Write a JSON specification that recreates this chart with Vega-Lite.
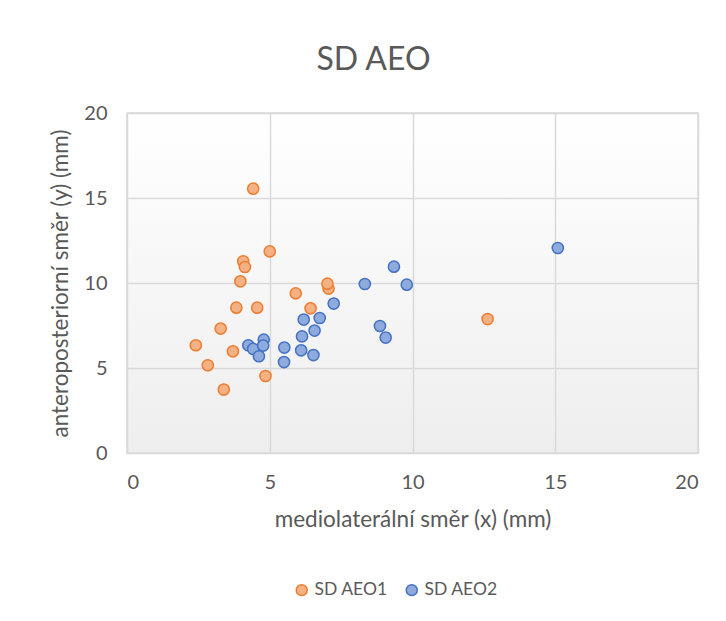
{
  "$schema": "https://vega.github.io/schema/vega-lite/v6.json",
  "width": 571,
  "height": 340,
  "autosize": {"type": "none"},
  "padding": {"left": 127, "top": 113, "right": 28, "bottom": 168},
  "background": "white",
  "title": {"text": "SD AEO", "font": "Lato", "fontSize": 32, "fontWeight": "normal", "color": "#595959", "anchor": "middle", "dx": -39, "offset": 26},
  "config": {
    "view": {"stroke": "#d9d9d9", "strokeWidth": 1.5, "fill": {"gradient": "linear", "x1": 0, "y1": 0, "x2": 0, "y2": 1, "stops": [{"offset": 0, "color": "#ffffff"}, {"offset": 1, "color": "#eeeeee"}]}},
    "font": "Lato",
    "axis": {
      "labelFont": "Lato", "titleFont": "Lato",
      "labelFontSize": 20, "titleFontSize": 22.5,
      "labelColor": "#595959", "titleColor": "#595959",
      "titleFontWeight": "normal",
      "gridColor": "#d9d9d9", "gridWidth": 1.5,
      "domain": false, "ticks": false
    },
    "legend": {"labelFont": "Lato", "labelFontSize": 17.5, "labelColor": "#595959"}
  },
  "data": {"values": [
    {"x": 4.42, "y": 15.55, "series": "SD AEO1"},
    {"x": 5.0, "y": 11.86, "series": "SD AEO1"},
    {"x": 4.07, "y": 11.28, "series": "SD AEO1"},
    {"x": 4.13, "y": 10.94, "series": "SD AEO1"},
    {"x": 3.97, "y": 10.1, "series": "SD AEO1"},
    {"x": 5.91, "y": 9.39, "series": "SD AEO1"},
    {"x": 7.06, "y": 9.67, "series": "SD AEO1"},
    {"x": 7.02, "y": 9.96, "series": "SD AEO1"},
    {"x": 3.83, "y": 8.55, "series": "SD AEO1"},
    {"x": 4.56, "y": 8.55, "series": "SD AEO1"},
    {"x": 6.43, "y": 8.51, "series": "SD AEO1"},
    {"x": 3.28, "y": 7.32, "series": "SD AEO1"},
    {"x": 2.41, "y": 6.34, "series": "SD AEO1"},
    {"x": 3.71, "y": 5.98, "series": "SD AEO1"},
    {"x": 2.83, "y": 5.16, "series": "SD AEO1"},
    {"x": 4.85, "y": 4.53, "series": "SD AEO1"},
    {"x": 3.39, "y": 3.73, "series": "SD AEO1"},
    {"x": 12.63, "y": 7.88, "series": "SD AEO1"},
    {"x": 4.25, "y": 6.34, "series": "SD AEO2"},
    {"x": 4.42, "y": 6.12, "series": "SD AEO2"},
    {"x": 4.79, "y": 6.67, "series": "SD AEO2"},
    {"x": 4.77, "y": 6.32, "series": "SD AEO2"},
    {"x": 4.62, "y": 5.69, "series": "SD AEO2"},
    {"x": 5.51, "y": 6.2, "series": "SD AEO2"},
    {"x": 5.5, "y": 5.35, "series": "SD AEO2"},
    {"x": 6.19, "y": 7.85, "series": "SD AEO2"},
    {"x": 6.75, "y": 7.94, "series": "SD AEO2"},
    {"x": 6.13, "y": 6.86, "series": "SD AEO2"},
    {"x": 6.57, "y": 7.2, "series": "SD AEO2"},
    {"x": 6.1, "y": 6.04, "series": "SD AEO2"},
    {"x": 6.53, "y": 5.76, "series": "SD AEO2"},
    {"x": 7.24, "y": 8.79, "series": "SD AEO2"},
    {"x": 8.33, "y": 9.94, "series": "SD AEO2"},
    {"x": 9.35, "y": 10.96, "series": "SD AEO2"},
    {"x": 9.8, "y": 9.9, "series": "SD AEO2"},
    {"x": 8.86, "y": 7.47, "series": "SD AEO2"},
    {"x": 9.06, "y": 6.79, "series": "SD AEO2"},
    {"x": 15.09, "y": 12.06, "series": "SD AEO2"}
  ]},
  "mark": {"type": "point", "shape": "circle", "filled": true, "size": 125, "strokeWidth": 1.5, "opacity": 1},
  "encoding": {
    "x": {"field": "x", "type": "quantitative", "scale": {"domain": [0, 20], "nice": false}, "axis": {"values": [0, 5, 10, 15, 20], "title": "mediolaterální směr (x) (mm)", "labelPadding": 19, "titlePadding": 16}},
    "y": {"field": "y", "type": "quantitative", "scale": {"domain": [0, 20], "nice": false}, "axis": {"values": [0, 5, 10, 15, 20], "title": "anteroposteriorní směr (y) (mm)", "labelPadding": 20, "titlePadding": 11}},
    "fill": {"field": "series", "type": "nominal", "scale": {"domain": ["SD AEO1", "SD AEO2"], "range": ["#f4b183", "#8faadc"]}, "legend": {"title": null, "orient": "none", "direction": "horizontal", "legendX": 166, "legendY": 468, "symbolSize": 120, "symbolStrokeWidth": 1.5, "columnPadding": 15, "labelOffset": 4}},
    "stroke": {"field": "series", "type": "nominal", "scale": {"domain": ["SD AEO1", "SD AEO2"], "range": ["#ed7d31", "#4472c4"]}, "legend": {"title": null, "orient": "none", "direction": "horizontal", "legendX": 166, "legendY": 468, "symbolSize": 120, "symbolStrokeWidth": 1.5, "columnPadding": 15, "labelOffset": 4}}
  }
}
